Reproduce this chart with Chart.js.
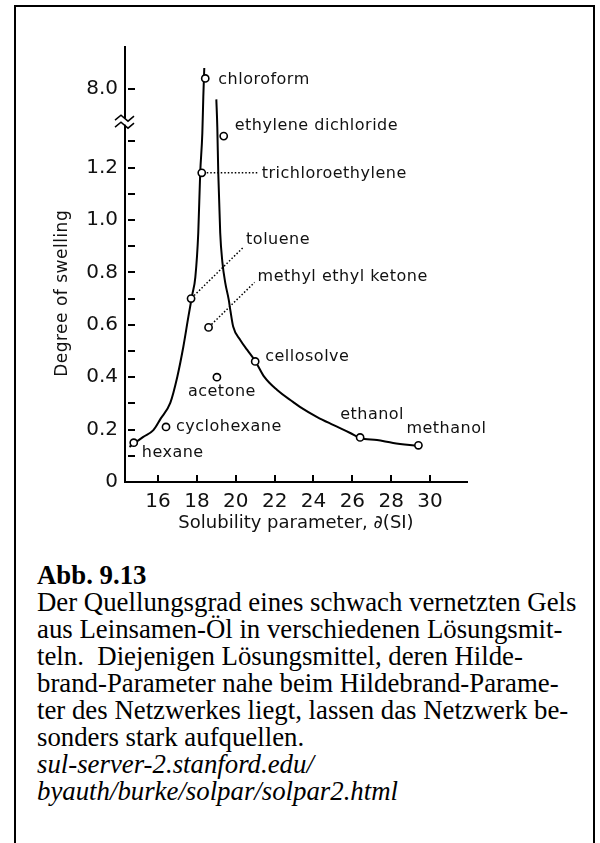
<!DOCTYPE html>
<html>
<head>
<meta charset="utf-8">
<title>Degree of swelling vs. solubility parameter</title>
<script src="https://cdn.jsdelivr.net/npm/chart.js@4.4.1/dist/chart.umd.min.js"></script>
<style>
  html, body { margin: 0; padding: 0; background: #fff; }
  body { width: 600px; height: 843px; position: relative; overflow: hidden; }
  #frame {
    position: absolute; left: 14px; top: 5px; width: 577px; height: 900px;
    border: 2px solid #000; border-bottom: none;
  }
  #chartBox { position: absolute; left: 0; top: 0; }
  #caption {
    position: absolute; left: 37px; top: 562px;
    font-family: "Liberation Serif", "Times New Roman", serif;
    font-size: 26.8px; line-height: 27px; color: #000; white-space: nowrap;
  }
</style>
</head>
<body>
<div id="frame"></div>
<div id="chartBox"><canvas id="swelling" width="600" height="540"></canvas></div>
<div id="caption">
<b>Abb. 9.13</b><br>
Der Quellungsgrad eines schwach vernetzten Gels<br>
aus Leinsamen-Öl in verschiedenen Lösungsmit-<br>
teln.&nbsp; Diejenigen Lösungsmittel, deren Hilde-<br>
brand-Parameter nahe beim Hildebrand-Parame-<br>
ter des Netzwerkes liegt, lassen das Netzwerk be-<br>
sonders stark aufquellen.<br>
<i>sul-server-2.stanford.edu/</i><br>
<i>byauth/burke/solpar/solpar2.html</i>
</div>
<script>
// solvents: solubility parameter (SI) and degree of swelling of the gel
const solvents = ['hexane', 'cyclohexane', 'toluene', 'trichloroethylene', 'chloroform',
  'ethylene dichloride', 'methyl ethyl ketone', 'acetone', 'cellosolve', 'ethanol', 'methanol'];
const solubility = [14.75, 16.41, 17.70, 18.25, 18.43, 19.38, 18.60, 19.03, 21.00, 26.40, 29.40];
const swelling = [0.15, 0.21, 0.70, 1.18, 8.04, 1.32, 0.59, 0.40, 0.46, 0.17, 0.14];

// fitted swelling curve, rising branch and falling branch of the peak
const riseX = [14.53, 15.24, 15.76, 16.12, 16.63, 16.99, 17.30, 17.56, 17.76, 17.92, 18.07, 18.17, 18.28, 18.33, 18.38];
const riseY = [0.134, 0.172, 0.198, 0.240, 0.302, 0.401, 0.515, 0.630, 0.714, 0.782, 0.950, 1.179, 1.332, 7.97, 8.08];
const fallX = [19.00, 19.05, 19.10, 19.20, 19.31, 19.46, 19.64, 19.72, 19.87, 20.23, 20.59, 21.00,
  21.47, 22.13, 22.96, 23.32, 24.19, 25.01, 25.89, 26.40, 27.27, 28.10, 29.38];
const fallY = [7.96, 1.355, 1.179, 0.950, 0.840, 0.760, 0.695, 0.656, 0.592, 0.542, 0.504, 0.462,
  0.401, 0.351, 0.305, 0.286, 0.248, 0.218, 0.187, 0.168, 0.160, 0.149, 0.137];

// axis ticks
const xTicks = [16, 18, 20, 22, 24, 26, 28, 30];
const yTicks = [0, 0.1, 0.2, 0.3, 0.4, 0.5, 0.6, 0.7, 0.8, 0.9, 1.0, 1.1, 1.2, 1.3, 8.0];
const yTickLabels = [0, 0.2, 0.4, 0.6, 0.8, 1.0, 1.2, 8.0];

// the y axis is broken between 1.3 and 8.0: values above the break are shifted down
const BREAK_SHIFT = 6.5;
const BREAK_AT = 1.375;
function fold(v) { return v > 2 ? v - BREAK_SHIFT : v; }
function unfold(v) { return v > 1.42 ? v + BREAK_SHIFT : v; }

// where each solvent name sits relative to its point (px), and whether it gets a dotted leader
const labelPlacement = [
  { dx: 8, dy: 10 },
  { dx: 10, dy: 0 },
  { dx: 55, dy: -59, leader: [3, -3, 52, -51] },
  { dx: 60, dy: 1, leader: [5, 0, 57, 0] },
  { dx: 13, dy: 1 },
  { dx: 11, dy: -10 },
  { dx: 49, dy: -51, leader: [3, -3, 46, -45] },
  { dx: -29, dy: 15 },
  { dx: 10, dy: -5 },
  { dx: -20, dy: -23 },
  { dx: -12, dy: -16 }
];

const labelFont = '16px "DejaVu Sans"';

const axisDecor = {
  id: 'axisDecor',
  beforeDatasetsDraw(chart) {
    const { ctx, scales: { x, y } } = chart;
    ctx.save();
    ctx.strokeStyle = '#000';
    ctx.lineWidth = 1.5;
    ctx.setLineDash([1.5, 2]);
    solvents.forEach((name, i) => {
      const lp = labelPlacement[i];
      if (!lp.leader) return;
      const px = x.getPixelForValue(solubility[i]);
      const py = y.getPixelForValue(fold(swelling[i]));
      ctx.beginPath();
      ctx.moveTo(px + lp.leader[0], py + lp.leader[1]);
      ctx.lineTo(px + lp.leader[2], py + lp.leader[3]);
      ctx.stroke();
    });
    ctx.restore();
  },
  afterDatasetsDraw(chart) {
    const { ctx, scales: { x, y } } = chart;
    ctx.save();
    ctx.font = labelFont;
    if ('letterSpacing' in ctx) ctx.letterSpacing = '0.5px';
    ctx.fillStyle = '#111';
    ctx.textAlign = 'left';
    ctx.textBaseline = 'middle';
    solvents.forEach((name, i) => {
      const lp = labelPlacement[i];
      const px = x.getPixelForValue(solubility[i]);
      const py = y.getPixelForValue(fold(swelling[i]));
      ctx.fillText(name, px + lp.dx, py + lp.dy);
    });
    ctx.restore();
  },
  afterDraw(chart) {
    const { ctx, chartArea, scales: { x, y } } = chart;
    ctx.save();
    ctx.strokeStyle = '#000';
    ctx.lineWidth = 2;
    // tick marks point into the plot
    y.ticks.forEach(t => {
      if (t.value === 0) return;
      const py = Math.round(y.getPixelForValue(t.value));
      ctx.beginPath();
      ctx.moveTo(chartArea.left + 3, py);
      ctx.lineTo(chartArea.left + 10, py);
      ctx.stroke();
    });
    x.ticks.forEach(t => {
      const px = Math.round(x.getPixelForValue(t.value));
      ctx.beginPath();
      ctx.moveTo(px, chartArea.bottom);
      ctx.lineTo(px, chartArea.bottom - 7);
      ctx.stroke();
    });
    // axis break
    const by = y.getPixelForValue(BREAK_AT);
    ctx.fillStyle = '#fff';
    ctx.fillRect(chartArea.left - 3, by - 3, 6, 6);
    ctx.lineWidth = 1.5;
    [-3.5, 3.5].forEach(off => {
      const cy = by + off;
      ctx.beginPath();
      ctx.moveTo(chartArea.left - 10, cy + 2);
      ctx.lineTo(chartArea.left - 4, cy - 3);
      ctx.lineTo(chartArea.left + 3, cy + 3);
      ctx.lineTo(chartArea.left + 9, cy - 2);
      ctx.stroke();
    });
    // y axis title
    ctx.font = '17px "DejaVu Sans"';
    if ('letterSpacing' in ctx) ctx.letterSpacing = '0.5px';
    ctx.fillStyle = '#111';
    ctx.textAlign = 'center';
    ctx.textBaseline = 'middle';
    ctx.translate(63, (y.getPixelForValue(0.72)));
    ctx.rotate(-Math.PI / 2);
    ctx.fillText('Degree of swelling', 0, 0);
    ctx.restore();
  }
};

const tickFont = { family: 'DejaVu Sans', size: 20 };

new Chart(document.getElementById('swelling'), {
  type: 'scatter',
  data: {
    datasets: [
      {
        label: 'solvents',
        data: solvents.map((s, i) => ({ x: solubility[i], y: fold(swelling[i]) })),
        pointStyle: 'circle',
        pointRadius: 3.6,
        pointBorderWidth: 1.6,
        pointBackgroundColor: '#fff',
        pointBorderColor: '#000'
      },
      {
        label: 'rise',
        data: riseX.map((v, i) => ({ x: v, y: fold(riseY[i]) })),
        showLine: true,
        borderColor: '#000',
        borderWidth: 2,
        pointRadius: 0,
        cubicInterpolationMode: 'monotone'
      },
      {
        label: 'fall',
        data: fallX.map((v, i) => ({ x: v, y: fold(fallY[i]) })),
        showLine: true,
        borderColor: '#000',
        borderWidth: 2,
        pointRadius: 0,
        cubicInterpolationMode: 'monotone'
      }
    ]
  },
  options: {
    responsive: false,
    animation: false,
    layout: { padding: { top: 47, right: 133, left: 0, bottom: 0 } },
    plugins: { legend: { display: false }, tooltip: { enabled: false } },
    scales: {
      x: {
        type: 'linear',
        min: 14.3,
        max: 31.9,
        afterBuildTicks: scale => { scale.ticks = xTicks.map(v => ({ value: v })); },
        afterFit: scale => { scale.height = 58; },
        grid: { display: false, drawTicks: false },
        border: { display: true, width: 2, color: '#000' },
        ticks: { font: tickFont, color: '#111', padding: 8, maxRotation: 0 },
        title: {
          display: true,
          text: 'Solubility parameter, ∂(SI)',
          font: { family: 'DejaVu Sans', size: 18 },
          color: '#111',
          padding: { top: 0, bottom: 6 }
        }
      },
      y: {
        type: 'linear',
        min: 0,
        max: 1.66,
        afterBuildTicks: scale => { scale.ticks = yTicks.map(v => ({ value: fold(v) })); },
        afterFit: scale => { scale.width = 125; },
        grid: { display: false, drawTicks: false },
        border: { display: true, width: 2, color: '#000' },
        ticks: {
          font: tickFont,
          color: '#111',
          padding: 7,
          autoSkip: false,
          callback: value => {
            const v = unfold(value);
            const shown = yTickLabels.find(t => Math.abs(t - v) < 1e-6);
            if (shown === undefined) return '';
            return shown === 0 ? '0' : shown.toFixed(1);
          }
        }
      }
    }
  },
  plugins: [axisDecor]
});
</script>
</body>
</html>
